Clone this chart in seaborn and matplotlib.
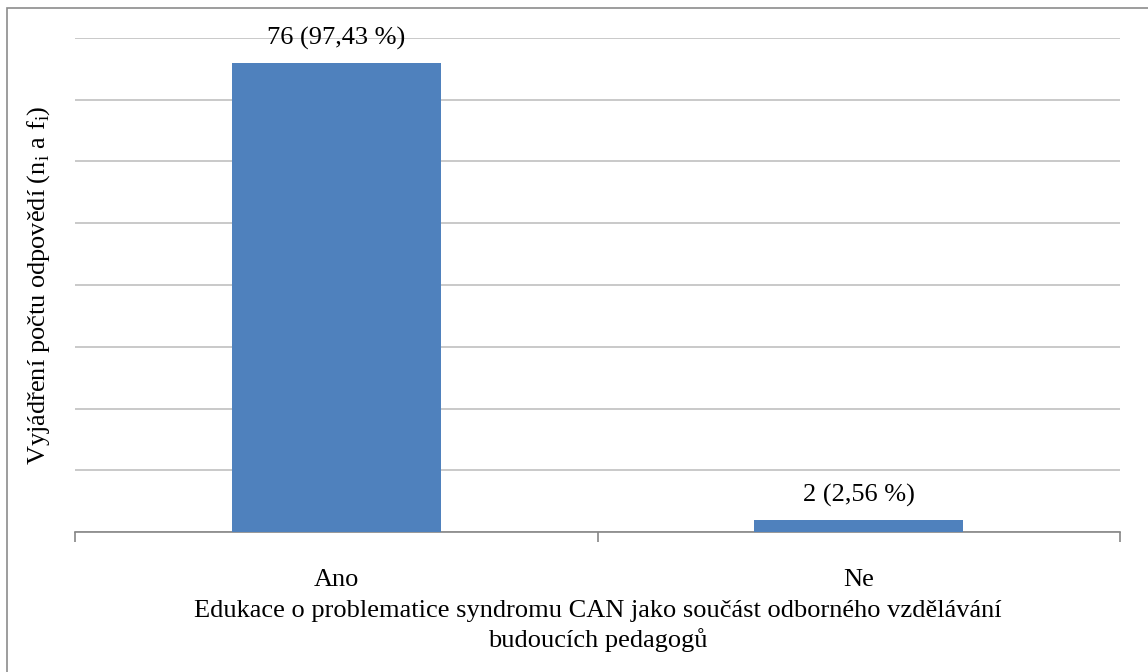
import matplotlib
matplotlib.use("Agg")
import matplotlib.pyplot as plt
import seaborn as sns
import pandas as pd
from matplotlib.patches import Rectangle

# Data
categories = ["Ano", "Ne"]
counts = [76, 2]
percents = ["97,43", "2,56"]
x_title = "Edukace o problematice syndromu CAN jako součást odborného vzdělávání\nbudoucích pedagogů"
y_title = r"Vyjádření počtu odpovědí (n$_\mathregular{i}$ a f$_\mathregular{i}$)"

df = pd.DataFrame({"odpoved": categories, "pocet": counts})

sns.set_theme(style="white", rc={"xtick.bottom": True, "text.color": "black",
                                 "axes.labelcolor": "black", "xtick.color": "black"})
plt.rcParams["font.family"] = ["Liberation Serif", "DejaVu Serif"]
plt.rcParams["mathtext.fontset"] = "custom"
plt.rcParams["mathtext.rm"] = "Liberation Serif"

fs = 19

fig = plt.figure(figsize=(11.48, 6.72), dpi=100)
ax = fig.add_axes([75 / 1148, 1 - 532 / 672, 1045 / 1148, 494 / 672])

# outer frame (only left and top edges visible in the reference)
fig.patches.append(Rectangle((7 / 1148, -0.1), 1.2, 1 - 8 / 672 + 0.1,
                             transform=fig.transFigure, fill=False,
                             edgecolor="#8c8c8c", linewidth=1.2))

sns.barplot(data=df, x="odpoved", y="pocet", color="#4F81BD", width=0.4,
            saturation=1, linewidth=0, ax=ax, zorder=3)

ax.set_ylim(0, 80)
ax.set_xlim(-0.5, 1.5)
ax.set_yticks(range(0, 81, 10))
ax.set_yticklabels([])
ax.tick_params(axis="y", length=0)
ax.grid(axis="y", color="#c0c0c0", linewidth=1.2, zorder=0)

for s in ["top", "right", "left"]:
    ax.spines[s].set_visible(False)
ax.spines["bottom"].set_color("#868686")
ax.spines["bottom"].set_linewidth(1.2)

# ticks between categories
ax.set_xticks([-0.5, 0.5, 1.5], minor=True)
ax.tick_params(axis="x", which="minor", length=7, color="#868686", width=1.2)
ax.tick_params(axis="x", which="major", length=0, pad=27, labelsize=fs,
               labelcolor="black")

for i, (c, p) in enumerate(zip(counts, percents)):
    ax.text(i, c + 2.0, f"{c} ({p} %)", ha="center", va="bottom", fontsize=fs,
            color="black")

ax.set_xlabel(x_title, fontsize=fs, labelpad=6, linespacing=1.32)
ax.set_ylabel(y_title, fontsize=fs, labelpad=13)

fig.savefig("out.png", dpi=100)
